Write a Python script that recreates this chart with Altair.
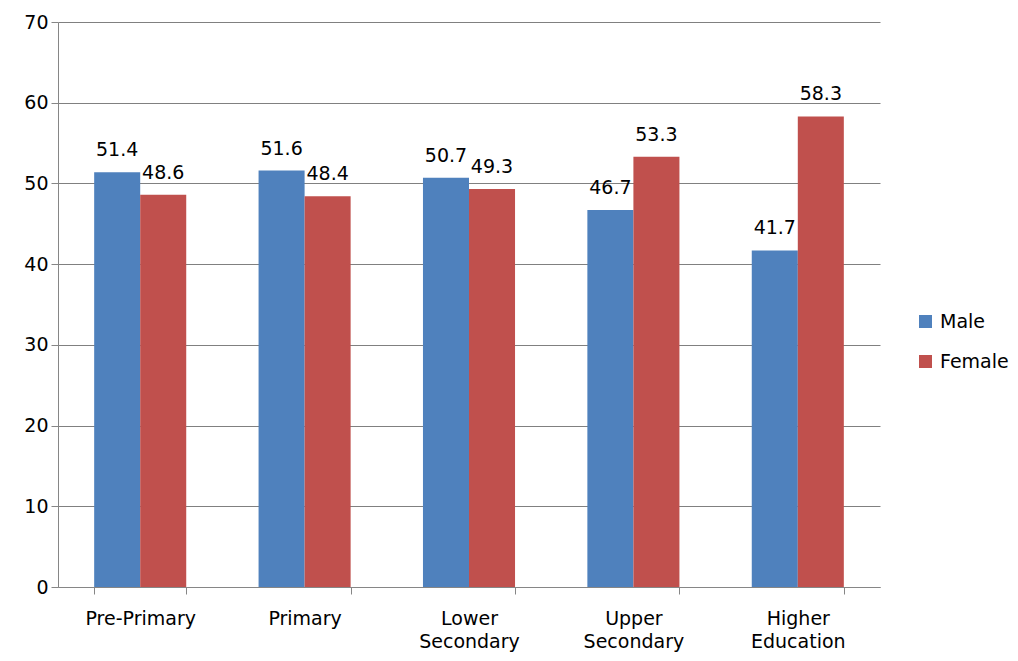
import altair as alt
import pandas as pd

categories = ["Pre-Primary", "Primary", "Lower Secondary", "Upper Secondary", "Higher Education"]
male = [51.4, 51.6, 50.7, 46.7, 41.7]
female = [48.6, 48.4, 49.3, 53.3, 58.3]
series = ["Male", "Female"]
colors = ["#4F81BD", "#C0504D"]

rows = []
for c, m, f in zip(categories, male, female):
    rows.append({"cat": c, "series": "Male", "value": m})
    rows.append({"cat": c, "series": "Female", "value": f})
df = pd.DataFrame(rows)

FONT = "DejaVu Sans"
FS = 19

x = alt.X("cat:N", sort=categories, title=None,
          scale=alt.Scale(paddingInner=0.44, paddingOuter=0.22),
          axis=alt.Axis(labelAngle=0, labelExpr="split(datum.label, ' ')",
                        labelFontSize=FS, labelColor="#000000", labelFont=FONT,
                        labelPadding=15, labelLineHeight=23,
                        tickBand="extent", tickSize=7, tickColor="#868686",
                        domainColor="#868686", grid=False, labelBaseline="top"))
xo = alt.XOffset("series:N", sort=series)

base = alt.Chart(df)
bars = base.mark_bar().encode(
    x=x, xOffset=xo,
    y=alt.Y("value:Q", title=None,
            scale=alt.Scale(domain=[0, 70], nice=False),
            axis=alt.Axis(values=list(range(0, 71, 10)), labelFontSize=FS,
                          labelColor="#000000", labelFont=FONT, tickSize=7,
                          tickColor="#868686", domainColor="#868686",
                          gridColor="#808080", labelPadding=3)),
    color=alt.Color("series:N", sort=series,
                    scale=alt.Scale(domain=series, range=colors),
                    legend=alt.Legend(title=None, orient="none", legendX=858, legendY=290,
                                      symbolType="square", symbolSize=170,
                                      symbolStrokeWidth=0, labelFontSize=FS,
                                      labelFont=FONT, labelColor="#000000",
                                      rowPadding=20, labelOffset=5)),
)
labels = base.mark_text(baseline="bottom", dy=-12, fontSize=FS, font=FONT, color="#000000").encode(
    x=x, xOffset=xo, y="value:Q", text=alt.Text("value:Q", format=".1f"),
)

chart = (bars + labels).properties(
    width=822, height=565,
    autosize=alt.AutoSizeParams(type="none"),
    padding={"left": 50, "top": 14, "right": 130, "bottom": 66},
).configure_view(stroke=None).configure_axis(gridWidth=1)

chart.save("out.html", embed_options={"renderer": "svg", "actions": False})
